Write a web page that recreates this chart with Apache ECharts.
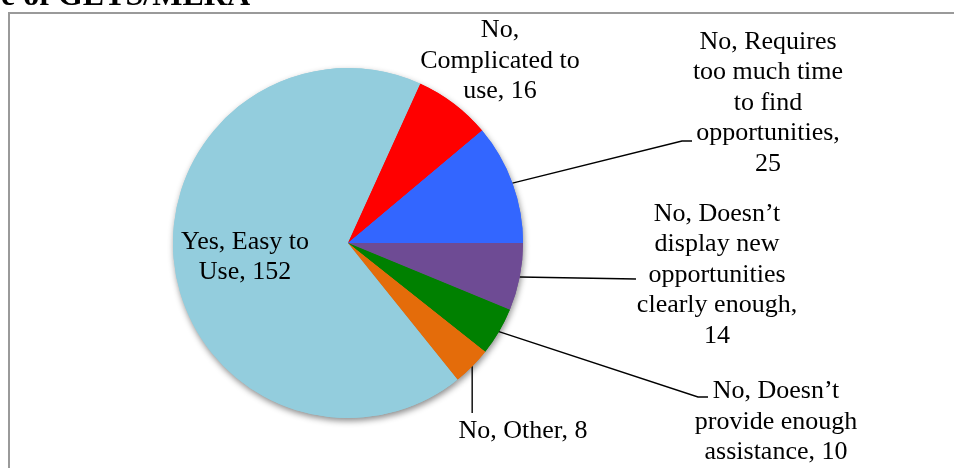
<!DOCTYPE html>
<html>
<head>
<meta charset="utf-8">
<script src="https://cdn.jsdelivr.net/npm/echarts@6/dist/echarts.min.js"></script>
<style>
html,body{margin:0;padding:0;background:#fff;}
#chart{width:954px;height:468px;}
</style>
</head>
<body>
<div id="chart"></div>
<script>
// ---- data ----
const categories = [
  'Yes, Easy to Use',
  'No, Complicated to use',
  'No, Requires too much time to find opportunities',
  'No, Doesn’t display new opportunities clearly enough',
  'No, Doesn’t provide enough assistance',
  'No, Other'
];
const values = [152, 16, 25, 14, 10, 8];
const labelTexts = [
  'Yes, Easy to\nUse, 152',
  'No,\nComplicated to\nuse, 16',
  'No, Requires\ntoo much time\nto find\nopportunities,\n25',
  'No, Doesn’t\ndisplay new\nopportunities\nclearly enough,\n14',
  'No, Doesn’t\nprovide enough\nassistance, 10',
  'No, Other, 8'
];
const titleText = 'e of GETS/MERA';

// ---- styles / layout ----
const colors = ['#93CDDD', '#FF0000', '#3366FF', '#6E4B94', '#008000', '#E46C0A'];
// label block centres and leader-line end offsets (relative to label centre)
const labelPlaces = [
  { x: 245, y: 257, line: null },
  { x: 500, y: 61, line: null },
  { x: 768, y: 103, line: { type: 'elbow', dx: -76, dy: 38, tail: 10 } },
  { x: 717, y: 275, line: { type: 'straight', dx: -81, dy: 4 } },
  { x: 776, y: 422, line: { type: 'elbow', dx: -68, dy: -25, tail: 10 } },
  { x: 523, y: 431, line: { type: 'vertical', dy: -18 } }
];
const FONT = "Liberation Serif";

const chart = echarts.init(document.getElementById('chart'), null, { renderer: 'canvas' });

const pieData = values.map((v, i) => ({
  value: v,
  name: categories[i],
  itemStyle: { color: colors[i] },
  labelLine: { show: !!labelPlaces[i].line }
}));

const shadowData = values.map((v, i) => ({
  value: v,
  name: categories[i],
  itemStyle: { color: colors[i] }
}));

const option = {
  animation: false,
  backgroundColor: '#ffffff',
  graphic: [
    {
      type: 'rect',
      shape: { x: 9, y: 13, width: 980, height: 500 },
      style: { fill: 'none', stroke: '#9a9a9a', lineWidth: 2 },
      z: 0
    },
    {
      type: 'text',
      x: 250,
      y: -19,
      z: 10,
      style: {
        text: titleText,
        fontFamily: FONT,
        fontSize: 32,
        fontWeight: 'bold',
        fill: '#000',
        align: 'right',
        verticalAlign: 'top'
      }
    }
  ],
  series: [
    {
      type: 'pie',
      silent: true,
      center: [348, 243],
      radius: 175,
      startAngle: 308.8,
      clockwise: true,
      label: { show: false },
      labelLine: { show: false },
      itemStyle: {
        borderWidth: 0,
        shadowColor: 'rgba(0,0,0,0.45)',
        shadowBlur: 6,
        shadowOffsetX: 1,
        shadowOffsetY: 3
      },
      z: 1,
      data: shadowData
    },
    {
      type: 'pie',
      center: [348, 243],
      radius: 175,
      startAngle: 308.8,
      clockwise: true,
      avoidLabelOverlap: false,
      itemStyle: { borderWidth: 0 },
      emphasis: { disabled: true },
      label: {
        show: true,
        position: 'outside',
        formatter: p => labelTexts[p.dataIndex],
        fontFamily: FONT,
        fontSize: 26,
        lineHeight: 30.5,
        color: '#000',
        align: 'center'
      },
      labelLine: {
        show: true,
        length: 10,
        length2: 10,
        lineStyle: { color: '#000', width: 1.4 }
      },
      labelLayout: function (params) {
        const place = labelPlaces[params.dataIndex];
        const res = { x: place.x, y: place.y, align: 'center', verticalAlign: 'middle' };
        const pts = params.labelLinePoints;
        if (place.line && pts && pts.length) {
          const p0 = pts[0];
          const ln = place.line;
          if (ln.type === 'elbow') {
            const ex = place.x + ln.dx, ey = place.y + ln.dy;
            res.labelLinePoints = [[p0[0], p0[1]], [ex - ln.tail, ey], [ex, ey]];
          } else if (ln.type === 'straight') {
            const ex = place.x + ln.dx, ey = place.y + ln.dy;
            res.labelLinePoints = [[p0[0], p0[1]], [(p0[0] + ex) / 2, (p0[1] + ey) / 2], [ex, ey]];
          } else if (ln.type === 'vertical') {
            const ey = place.y + ln.dy;
            res.labelLinePoints = [[p0[0], p0[1]], [p0[0], (p0[1] + ey) / 2], [p0[0], ey]];
          }
        }
        return res;
      },
      z: 2,
      data: pieData
    }
  ]
};

chart.setOption(option);
</script>
</body>
</html>
